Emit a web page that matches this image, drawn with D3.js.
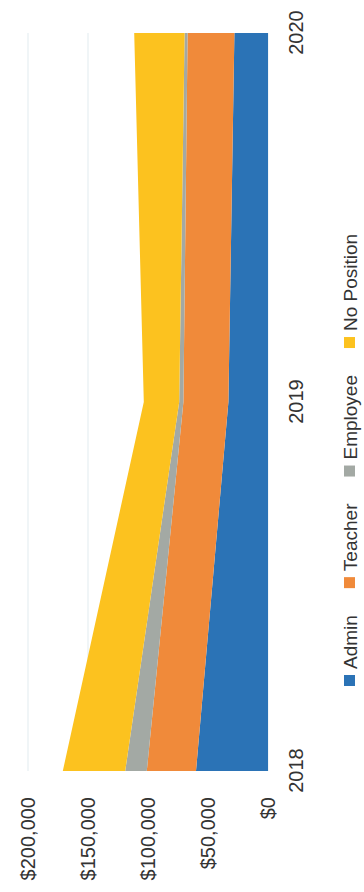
<!DOCTYPE html>
<html>
<head>
<meta charset="utf-8">
<script src="https://cdn.jsdelivr.net/npm/d3@7"></script>
<style>
  html, body { margin: 0; padding: 0; background: #fff; }
  svg { display: block; }
  text { font-family: "Liberation Sans", Arial, sans-serif; fill: #333; }
</style>
</head>
<body>
<svg id="chart" width="364" height="892"></svg>
<script>
// Salary totals by position, stacked per year
const years = ["2018", "2019", "2020"];
const positions = ["Admin", "Teacher", "Employee", "No Position"];
const admin = [60000, 33000, 28000];
const teacher = [41000, 37500, 39000];
const employee = [18000, 3500, 2500];
const noPosition = [52000, 29500, 42000];
const valueTicks = [0, 50000, 100000, 150000, 200000];
const colors = ["#2b73b6", "#f08a3a", "#a3a9a4", "#fcc21f"];

const rows = years.map((y, i) => ({
  year: y,
  "Admin": admin[i],
  "Teacher": teacher[i],
  "Employee": employee[i],
  "No Position": noPosition[i]
}));

const W = 892, H = 364;   // chart laid out landscape, then turned onto the page
const svg = d3.select("#chart");
const g = svg.append("g").attr("transform", `translate(0,${W}) rotate(-90)`);

const x = d3.scalePoint().domain(years).range([121, 859]);
const y = d3.scaleLinear().domain([0, 200000]).range([268, 28]);

// gridlines
g.append("g").selectAll("line").data(valueTicks).join("line")
  .attr("x1", 121).attr("x2", 859)
  .attr("y1", d => y(d)).attr("y2", d => y(d))
  .attr("stroke", "#e6eef2").attr("stroke-width", 1.2);

// stacked areas
const stack = d3.stack().keys(positions)(rows);
const area = d3.area()
  .x(d => x(d.data.year))
  .y0(d => y(d[0]))
  .y1(d => y(d[1]));

g.append("g").selectAll("path").data(stack).join("path")
  .attr("d", area)
  .attr("fill", (d, i) => colors[i]);

// value axis
const fmt = d => "$" + d3.format(",")(d);
const yAxis = d3.axisLeft(y).tickValues(valueTicks).tickFormat(fmt).tickSize(0).tickPadding(0);
const ya = g.append("g").attr("transform", "translate(95,0)").call(yAxis);
ya.select(".domain").remove();
ya.selectAll("text").attr("font-size", 20).attr("fill", "#333")
  .style("font-family", "'Liberation Sans', Arial, sans-serif");

// year axis
const xAxis = d3.axisBottom(x).tickSize(0).tickPadding(0);
const xa = g.append("g").attr("transform", "translate(0,289)").call(xAxis);
xa.select(".domain").remove();
xa.selectAll("text").attr("font-size", 20).attr("fill", "#333").attr("dy", "0.71em")
  .style("font-family", "'Liberation Sans', Arial, sans-serif");

// legend
const legend = g.append("g").attr("transform", "translate(0,350)");
let u = 206;
positions.forEach((p, i) => {
  legend.append("rect").attr("x", u).attr("y", -6).attr("width", 11).attr("height", 11)
    .attr("fill", colors[i]);
  const t = legend.append("text").attr("x", u + 17).attr("y", 0)
    .attr("dominant-baseline", "central").attr("font-size", 19).attr("fill", "#333").text(p);
  u += 17 + t.node().getComputedTextLength() + 27;
});
</script>
</body>
</html>
